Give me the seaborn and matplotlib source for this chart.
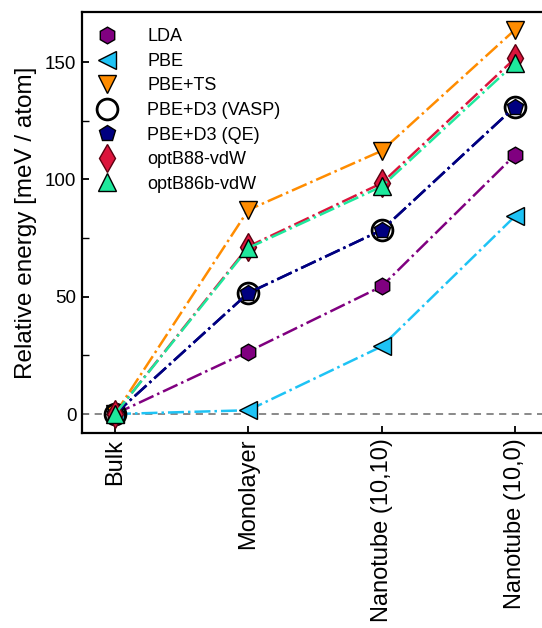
import numpy as np
import pandas as pd
import matplotlib
matplotlib.use("Agg")
import matplotlib.pyplot as plt
from matplotlib.lines import Line2D
from matplotlib.ticker import MultipleLocator
import seaborn as sns

categories = ["Bulk", "Monolayer", "Nanotube (10,10)", "Nanotube (10,0)"]
series_names = ["LDA", "PBE", "PBE+TS", "PBE+D3 (VASP)", "PBE+D3 (QE)",
                "optB88-vdW", "optB86b-vdW"]
lda = [0.0, 26.6, 54.4, 110.4]
pbe = [0.0, 1.6, 28.8, 84.3]
pbe_ts = [0.0, 87.0, 112.2, 163.8]
pbe_d3_vasp = [0.0, 51.6, 78.4, 131.0]
pbe_d3_qe = [0.0, 51.6, 78.4, 131.0]
optb88 = [0.0, 71.4, 98.4, 151.6]
optb86b = [0.0, 70.8, 97.0, 149.5]
values = [lda, pbe, pbe_ts, pbe_d3_vasp, pbe_d3_qe, optb88, optb86b]

colors = ["#800080", "#1ec3f5", "#ff8c00", "#000080", "#000080", "#dc143c", "#1ee89c"]
markers = ["h", "<", "v", "o", "p", "d", "^"]
msizes = [12, 13, 13, 15, 12, 14, 13]
mfaces = ["#800080", "#1ec3f5", "#ff8c00", "none", "#000080", "#dc143c", "#1ee89c"]
medges = ["black", "black", "black", "black", "black", "#5a0010", "black"]
mews = [1.0, 1.0, 1.0, 2.0, 1.0, 1.0, 1.0]

sns.set_style("ticks")
plt.rcParams["font.family"] = ["Liberation Sans", "DejaVu Sans"]
plt.rcParams["text.color"] = "black"
plt.rcParams["axes.labelcolor"] = "black"
plt.rcParams["xtick.color"] = "black"
plt.rcParams["ytick.color"] = "black"

fig = plt.figure(figsize=(5.42, 6.28), dpi=100)
ax = fig.add_axes([0.1513, 0.3105, 0.8487, 0.6704])

ax.axhline(0, color="#808080", lw=1.3, ls=(0, (4, 3)), zorder=1)

xpos = np.arange(len(categories))
for i, (name, vals) in enumerate(zip(series_names, values)):
    df = pd.DataFrame({"x": xpos, "y": vals})
    sns.lineplot(data=df, x="x", y="y", ax=ax, color=colors[i], lw=1.8,
                 linestyle="-.", marker=markers[i], markersize=msizes[i],
                 markerfacecolor=mfaces[i], markeredgecolor=medges[i],
                 markeredgewidth=mews[i], zorder=3 + i, legend=False)

ax.set_xlim(-0.2475, 3.203)
ax.set_ylim(-8.1, 171.4)
ax.set_xticks(xpos)
ax.set_xticklabels(categories, rotation=90, fontsize=17)
ax.yaxis.set_major_locator(MultipleLocator(50))
ax.yaxis.set_minor_locator(MultipleLocator(25))
ax.tick_params(axis="y", which="major", direction="in", length=5, width=1.3,
               labelsize=13.5, pad=4)
ax.tick_params(axis="y", which="minor", direction="in", length=5, width=1.0)
ax.tick_params(axis="x", which="major", direction="in", length=5, width=1.3, pad=4)
ax.set_xlabel("")
ax.set_ylabel("Relative energy [meV / atom]", fontsize=17.5, labelpad=6)
for s in ["left", "bottom", "top"]:
    ax.spines[s].set_linewidth(1.6)
    ax.spines[s].set_color("black")
ax.spines["right"].set_visible(False)

handles = [Line2D([], [], ls="none", marker=markers[i], markersize=msizes[i],
                  markerfacecolor=mfaces[i], markeredgecolor=medges[i],
                  markeredgewidth=mews[i]) for i in range(len(series_names))]
ax.legend(handles, series_names, loc="upper left", frameon=False, fontsize=13,
          handlelength=1.0, handletextpad=1.7, labelspacing=0.42,
          borderaxespad=0.5, borderpad=0.4)

fig.savefig("out.png", dpi=100)
